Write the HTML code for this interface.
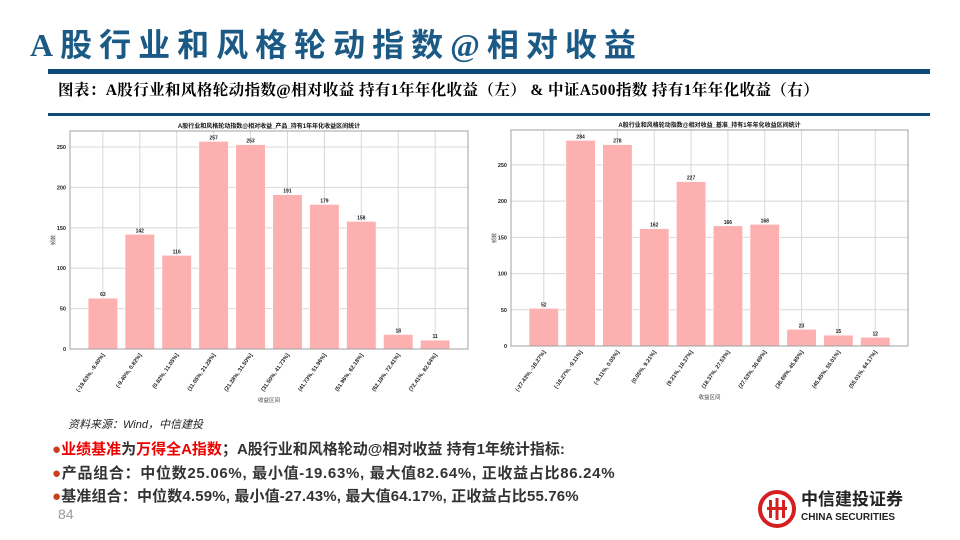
<!DOCTYPE html>
<html><head><meta charset="utf-8">
<style>
body{margin:0;width:960px;height:540px;background:#fff;position:relative;overflow:hidden;font-family:"Liberation Sans","Noto Sans CJK SC",sans-serif}
.abs{position:absolute}
</style></head><body>
<div class="abs" style="left:30px;top:26px;font-size:32px;color:#1c5a86;font-family:'Liberation Serif','Noto Sans CJK SC',sans-serif;font-weight:bold;letter-spacing:7px;line-height:38px">A股行业和风格轮动指数@相对收益</div>
<div class="abs" style="left:48px;top:69px;width:882px;height:5px;background:#0f4a78"></div>
<div class="abs" style="left:58px;top:80px;font-size:15.5px;font-weight:bold;color:#000;font-family:'Liberation Serif','Noto Serif CJK SC',serif;line-height:22px;letter-spacing:0.4px">图表：A股行业和风格轮动指数@相对收益 持有1年年化收益（左） &amp; 中证A500指数 持有1年年化收益（右）</div>
<div class="abs" style="left:48px;top:113px;width:882px;height:3px;background:#0f4a78"></div>

<svg class="abs" style="left:0;top:0" width="960" height="420" id="charts"></svg>

<div class="abs" style="left:68px;top:416px;font-size:11px;font-style:italic;color:#222">资料来源：Wind，中信建投</div>
<div class="abs" style="left:52px;top:438px;font-size:15px;font-weight:bold;color:#333;line-height:23.5px">
<div><span style="color:#c8401a">●</span><span style="color:#e00">业绩基准</span>为<span style="color:#e00">万得全A指数</span>；A股行业和风格轮动@相对收益 持有1年统计指标:</div>
<div style="letter-spacing:0.7px"><span style="color:#c8401a">●</span>产品组合：中位数25.06%, 最小值-19.63%, 最大值82.64%, 正收益占比86.24%</div>
<div style="letter-spacing:0.15px"><span style="color:#c8401a">●</span>基准组合：中位数4.59%, 最小值-27.43%, 最大值64.17%, 正收益占比55.76%</div>
</div>
<div class="abs" style="left:58px;top:506px;font-size:14px;color:#999">84</div>
<div class="abs" style="left:758px;top:490px;width:160px;height:40px">
<svg width="40" height="40" style="position:absolute;left:0;top:0"><circle cx="19" cy="19" r="17" fill="none" stroke="#d42020" stroke-width="4"/><rect x="11" y="10" width="3" height="18" fill="#d42020"/><rect x="17.5" y="8" width="3" height="22" fill="#d42020"/><rect x="24" y="10" width="3" height="18" fill="#d42020"/><rect x="9" y="17" width="20" height="3" fill="#d42020"/></svg>
<div style="position:absolute;left:43px;top:0;font-size:17px;font-weight:bold;color:#222;line-height:20px">中信建投证券</div>
<div style="position:absolute;left:43px;top:22px;font-size:10px;font-weight:bold;color:#222">CHINA SECURITIES</div>
</div>

<script>
const leftCats=["(-19.63%, -9.40%]","(-9.40%, 0.82%]","(0.82%, 11.05%]","(11.05%, 21.28%]","(21.28%, 31.50%]","(31.50%, 41.73%]","(41.73%, 51.96%]","(51.96%, 62.18%]","(62.18%, 72.41%]","(72.41%, 82.64%]"];
const leftValues=[63,142,116,257,253,191,179,158,18,11];
const leftTicks=[0,50,100,150,200,250];
const rightCats=["(-27.43%, -18.27%]","(-18.27%, -9.11%]","(-9.11%, 0.05%]","(0.05%, 9.21%]","(9.21%, 18.37%]","(18.37%, 27.53%]","(27.53%, 36.69%]","(36.69%, 45.85%]","(45.85%, 55.01%]","(55.01%, 64.17%]"];
const rightValues=[52,284,278,162,227,166,168,23,15,12];
const rightTicks=[0,50,100,150,200,250];
const leftTitle="A股行业和风格轮动指数@相对收益_产品_持有1年年化收益区间统计";
const rightTitle="A股行业和风格轮动指数@相对收益_基准_持有1年年化收益区间统计";

const NS="http://www.w3.org/2000/svg";
const svg=document.getElementById('charts');
function mk(tag,attrs,parent){const e=document.createElementNS(NS,tag);for(const k in attrs)e.setAttribute(k,attrs[k]);(parent||svg).appendChild(e);return e;}

function drawChart(cfg,cats,vals,ticks,title,name){
  const g=mk('g',{});
  
  
  const n=cats.length;
  const ymax=Math.max(...vals)*1.05;
  const xs=i=>cfg.L+(i+0.89)/(n-1+1.78)*(cfg.R-cfg.L);
  const ys=v=>cfg.B-v/ymax*(cfg.B-cfg.T);
  const bw=0.8/(n-1+1.78)*(cfg.R-cfg.L);
  ticks.forEach(t=>{
    const l=mk('line',{x1:cfg.L,x2:cfg.R,y1:ys(t),y2:ys(t),stroke:'#d8d8d8','stroke-width':1},g);
    
    
    const tx=mk('text',{x:cfg.L-4,y:ys(t)+2,'font-size':5.5,'text-anchor':'end','font-weight':'bold',fill:'#222'},g);
    tx.textContent=t;
    
    
  });
  cats.forEach((c,i)=>{
    const l=mk('line',{x1:xs(i),x2:xs(i),y1:cfg.T,y2:cfg.B,stroke:'#d8d8d8','stroke-width':1},g);
    
    
    const r=mk('rect',{x:xs(i)-bw/2,y:ys(vals[i]),width:bw,height:cfg.B-ys(vals[i]),fill:'#fdb0b0',stroke:'#fff','stroke-width':0.6},g);
    
    
    const v=mk('text',{x:xs(i),y:ys(vals[i])-2,'font-size':5,'text-anchor':'middle','font-weight':'bold',fill:'#222'},g);
    v.textContent=vals[i];
    
    
    const tl=mk('text',{x:xs(i)+2,y:cfg.B+6,'font-size':5.6,'text-anchor':'end','font-weight':'bold',fill:'#222',transform:`rotate(-55 ${xs(i)+2} ${cfg.B+6})`},g);
    tl.textContent=c;
    
    
  });
  const f=mk('rect',{x:cfg.L,y:cfg.T,width:cfg.R-cfg.L,height:cfg.B-cfg.T,fill:'none',stroke:'#a0a0a0','stroke-width':1},g);
  
  
  const t=mk('text',{x:(cfg.L+cfg.R)/2,y:cfg.T-3,'font-size':6,'text-anchor':'middle','font-weight':'bold',fill:'#111'},g);
  t.textContent=title;
  
  
  const xl=mk('text',{x:(cfg.L+cfg.R)/2,y:cfg.B+53,'font-size':5.5,'text-anchor':'middle',fill:'#444'},g);
  xl.textContent='收益区间';
  
  
  const yl=mk('text',{x:cfg.L-15,y:(cfg.T+cfg.B)/2,'font-size':5,'text-anchor':'middle',fill:'#444',transform:`rotate(-90 ${cfg.L-15} ${(cfg.T+cfg.B)/2})`},g);
  yl.textContent='频数';
  
  
}
drawChart({L:70,R:468,T:131,B:349},leftCats,leftValues,leftTicks,leftTitle,'left-chart');
drawChart({L:511,R:908,T:130,B:346},rightCats,rightValues,rightTicks,rightTitle,'right-chart');
</script>
</body></html>
